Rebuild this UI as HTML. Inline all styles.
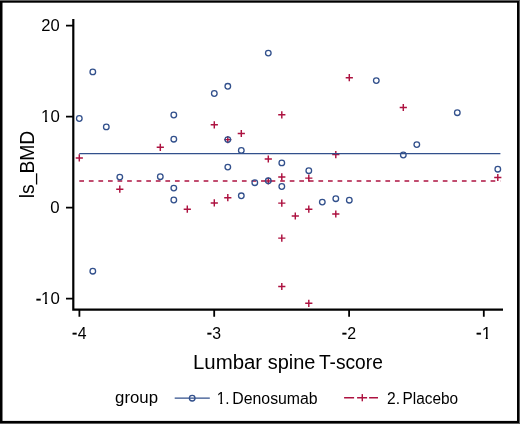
<!DOCTYPE html>
<html><head><meta charset="utf-8"><style>
html,body{margin:0;padding:0;background:#5f5f5f;}
body{width:520px;height:424px;overflow:hidden;}
svg{display:block;font-family:"Liberation Sans",sans-serif;will-change:transform;}
</style></head><body>
<svg width="520" height="424" viewBox="0 0 520 424">
<rect x="0" y="1" width="519" height="422" fill="#000"/>
<rect x="2.5" y="2.7" width="514.5" height="418.2" fill="#fff"/>
<g stroke="#000" fill="none">
<path d="M73.3 20.1V309.6H501.9" stroke-width="2.2" stroke-linecap="square" stroke-linejoin="miter"/>
<path d="M66 25.7H73M66 116.7H73M66 207.7H73M66 298.6H73" stroke-width="1.8"/>
<path d="M79.4 310V316.8M214.2 310V316.8M349.1 310V316.8M483.8 310V316.8" stroke-width="1.8"/>
</g>
<defs><clipPath id="nf" clipPathUnits="userSpaceOnUse"><path clip-rule="evenodd" d="M0 0H520V424H0Z M41.40 120.10H44.96V122.90H41.40Z M47.14 120.10H50.36V122.90H47.14Z M41.35 302.10H44.91V304.90H41.35Z M47.09 302.10H50.31V304.90H47.09Z M482.01 336.90H485.60V339.70H482.01Z M487.80 336.90H491.05V339.70H487.80Z M217.03 401.60H220.23V404.40H217.03Z M222.29 401.60H225.18V404.40H222.29Z"/></clipPath></defs>
<g fill="#000" clip-path="url(#nf)">
<text transform="translate(0 31.0) scale(0.975 1)" font-size="17"><tspan x="42.25" y="0">2</tspan><tspan x="51.73" y="0">0</tspan></text>
<text transform="translate(0 122.0) scale(0.99 1)" font-size="17"><tspan x="41.49" y="0">1</tspan><tspan x="50.93" y="0">0</tspan></text>
<text transform="translate(0 212.9) scale(0.99 1)" font-size="17"><tspan x="50.83" y="0">0</tspan></text>
<text transform="translate(0 304.0) scale(0.99 1)" font-size="17"><tspan x="36.01" y="-0.4" stroke="#000" stroke-width="0.3">-</tspan><tspan x="41.44" y="0">1</tspan><tspan x="50.93" y="0">0</tspan></text>
<text transform="translate(0 338.8) scale(0.93 1)" font-size="17"><tspan x="77.49" y="-0.4" stroke="#000" stroke-width="0.3">-</tspan><tspan x="83.71" y="0">4</tspan></text>
<text transform="translate(0 338.8) scale(0.93 1)" font-size="17"><tspan x="222.44" y="-0.4" stroke="#000" stroke-width="0.3">-</tspan><tspan x="228.23" y="0">3</tspan></text>
<text transform="translate(0 338.8) scale(0.94 1)" font-size="17"><tspan x="363.45" y="-0.4" stroke="#000" stroke-width="0.3">-</tspan><tspan x="369.32" y="0">2</tspan></text>
<text transform="translate(0 338.8) scale(1.0 1)" font-size="17"><tspan x="476.12" y="-0.4" stroke="#000" stroke-width="0.3">-</tspan><tspan x="481.67" y="0">1</tspan></text>
<text x="192.93" y="368.5" font-size="20" textLength="69.21" lengthAdjust="spacingAndGlyphs">Lumbar</text>
<text x="267.74" y="368.5" font-size="20" textLength="47.74" lengthAdjust="spacingAndGlyphs">spine</text>
<text x="318.88" y="368.5" font-size="20" textLength="63.96" lengthAdjust="spacingAndGlyphs">T-score</text>
<text transform="translate(34 198.30) rotate(-90)" font-size="20" textLength="67.63" lengthAdjust="spacingAndGlyphs">ls<tspan dy="-1.5">_</tspan><tspan dy="1.5">BMD</tspan></text>
<text x="115.10" y="402.8" font-size="16" textLength="42.91" lengthAdjust="spacingAndGlyphs">group</text>
<text x="216.73" y="403.5" font-size="16" textLength="12.76" lengthAdjust="spacingAndGlyphs">1.</text>
<text x="232.30" y="403.5" font-size="16" textLength="85.36" lengthAdjust="spacingAndGlyphs">Denosumab</text>
<text x="387.02" y="403.5" font-size="16" textLength="13.01" lengthAdjust="spacingAndGlyphs">2.</text>
<text x="402.54" y="403.5" font-size="16" textLength="55.61" lengthAdjust="spacingAndGlyphs">Placebo</text>
</g>
<path d="M75.7 157.9h7.2M79.3 154.3v7.2 M156.7 147.3h7.2M160.3 143.7v7.2 M116.2 189.2h7.2M119.8 185.6v7.2 M210.7 124.8h7.2M214.3 121.2v7.2 M237.7 133.5h7.2M241.3 129.9v7.2 M224.2 139.6h7.2M227.8 136.0v7.2 M183.7 209.2h7.2M187.3 205.6v7.2 M210.7 202.9h7.2M214.3 199.3v7.2 M224.2 197.7h7.2M227.8 194.1v7.2 M345.7 77.7h7.2M349.3 74.1v7.2 M278.2 114.8h7.2M281.8 111.2v7.2 M264.7 159.0h7.2M268.3 155.4v7.2 M332.2 154.6h7.2M335.8 151.0v7.2 M278.2 176.9h7.2M281.8 173.3v7.2 M305.2 178.1h7.2M308.8 174.5v7.2 M278.2 203.1h7.2M281.8 199.5v7.2 M291.7 216.0h7.2M295.3 212.4v7.2 M305.2 209.2h7.2M308.8 205.6v7.2 M332.2 214.0h7.2M335.8 210.4v7.2 M278.2 238.1h7.2M281.8 234.5v7.2 M278.2 286.5h7.2M281.8 282.9v7.2 M305.2 303.3h7.2M308.8 299.7v7.2 M399.7 107.5h7.2M403.3 103.9v7.2 M494.2 177.5h7.2M497.8 173.9v7.2 M264.7 181.0h7.2M268.3 177.4v7.2" stroke="#ad1240" stroke-width="1.45" fill="none"/>
<path d="M79.3 181H500.4" stroke="#ad1240" stroke-width="1.5" stroke-dasharray="4.7 4.865" fill="none"/>
<g fill="none" stroke="#32508c" stroke-width="1.3">
<circle cx="92.8" cy="71.9" r="2.8"/>
<circle cx="79.3" cy="118.5" r="2.8"/>
<circle cx="106.3" cy="126.9" r="2.8"/>
<circle cx="173.8" cy="115.0" r="2.8"/>
<circle cx="173.8" cy="139.2" r="2.8"/>
<circle cx="119.8" cy="177.1" r="2.8"/>
<circle cx="160.3" cy="176.7" r="2.8"/>
<circle cx="173.8" cy="188.1" r="2.8"/>
<circle cx="173.8" cy="200.0" r="2.8"/>
<circle cx="92.8" cy="271.2" r="2.8"/>
<circle cx="214.3" cy="93.5" r="2.8"/>
<circle cx="227.8" cy="86.3" r="2.8"/>
<circle cx="227.8" cy="139.6" r="2.8"/>
<circle cx="241.3" cy="150.4" r="2.8"/>
<circle cx="227.8" cy="167.1" r="2.8"/>
<circle cx="241.3" cy="195.8" r="2.8"/>
<circle cx="254.8" cy="182.7" r="2.8"/>
<circle cx="268.3" cy="53.1" r="2.8"/>
<circle cx="268.3" cy="180.8" r="2.8"/>
<circle cx="281.8" cy="162.9" r="2.8"/>
<circle cx="281.8" cy="186.5" r="2.8"/>
<circle cx="308.8" cy="170.7" r="2.8"/>
<circle cx="322.3" cy="202.1" r="2.8"/>
<circle cx="335.8" cy="198.7" r="2.8"/>
<circle cx="349.3" cy="200.2" r="2.8"/>
<circle cx="376.3" cy="80.6" r="2.8"/>
<circle cx="416.8" cy="144.6" r="2.8"/>
<circle cx="403.3" cy="155.0" r="2.8"/>
<circle cx="457.3" cy="112.7" r="2.8"/>
<circle cx="497.8" cy="169.2" r="2.8"/>
</g>
<path d="M79.3 153.6H500.4" stroke="#32508c" stroke-width="1.3" fill="none"/>
<path d="M174.7 398.2H209.8" stroke="#32508c" stroke-width="1.3"/>
<circle cx="192.2" cy="398.2" r="2.8" fill="none" stroke="#32508c" stroke-width="1.3"/>
<path d="M344.1 397.7H378" stroke="#ad1240" stroke-width="1.5" stroke-dasharray="10 3 10 2 10"/>
<path d="M362.3 394.1V401.3" stroke="#ad1240" stroke-width="1.45"/>
</svg>
</body></html>
